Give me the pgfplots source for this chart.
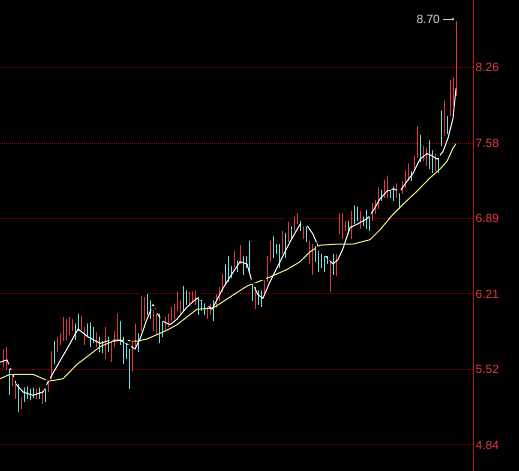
\documentclass[border=0pt]{standalone}
\usepackage{pgfplots}
\pgfplotsset{compat=1.18}
\usepackage{pgfplotstable}
\usetikzlibrary{arrows.meta}
\usepackage{fontspec}
\setmainfont{Liberation Sans}

\definecolor{upred}{RGB}{225,55,55}
\definecolor{downcyan}{RGB}{105,225,225}
\definecolor{mayellow}{RGB}{240,240,140}
\definecolor{gridred}{RGB}{165,0,0}
\definecolor{axisred}{RGB}{190,20,20}
\definecolor{labred}{RGB}{230,60,60}
\definecolor{maxgray}{RGB}{210,210,210}

% daily high-low ranges, rising days
\pgfplotstableread{
t lo hi
3 5.55 5.73
6 5.52 5.75
12 5.37 5.50
15 5.26 5.44
21 5.17 5.29
36 5.26 5.37
42 5.21 5.35
48 5.32 5.44
51 5.44 5.71
57 5.68 5.84
60 5.75 5.87
63 5.78 6.02
66 5.79 6.00
69 5.84 6.02
72 5.87 6.00
81 5.88 6.03
84 5.75 5.93
96 5.73 5.88
105 5.62 5.93
111 5.59 5.80
114 5.73 5.89
117 5.78 6.05
132 5.50 5.80
135 5.71 5.96
141 5.87 6.21
144 5.96 6.20
153 5.87 6.08
156 5.84 6.05
165 5.88 6.02
168 5.91 6.05
171 5.96 6.11
174 5.98 6.14
177 6.05 6.25
180 6.03 6.17
189 6.11 6.25
192 6.14 6.25
195 6.11 6.26
207 5.98 6.11
210 6.02 6.14
216 6.08 6.23
219 6.14 6.29
222 6.23 6.41
234 6.44 6.62
240 6.48 6.67
255 6.07 6.29
264 6.20 6.35
267 6.32 6.57
270 6.50 6.71
282 6.57 6.80
288 6.68 6.88
294 6.78 6.93
297 6.84 6.96
303 6.71 6.84
309 6.48 6.71
312 6.38 6.68
330 6.23 6.53
336 6.37 6.59
339 6.75 6.96
342 6.71 6.96
345 6.78 6.89
351 6.71 6.98
360 6.80 6.98
372 6.87 7.05
375 6.93 7.08
378 6.98 7.20
384 7.08 7.26
387 7.08 7.30
396 7.08 7.23
402 7.11 7.25
405 7.17 7.35
408 7.23 7.41
414 7.32 7.48
417 7.44 7.75
423 7.41 7.57
426 7.37 7.55
435 7.32 7.50
444 7.64 7.98
450 7.82 8.17
453 7.91 8.19
456 8.00 8.70
}\upbars

% daily high-low ranges, falling days
\pgfplotstableread{
t lo hi
9 5.29 5.55
18 5.14 5.41
24 5.23 5.38
27 5.26 5.39
30 5.25 5.37
33 5.27 5.38
39 5.26 5.38
45 5.23 5.37
54 5.57 5.80
75 5.79 5.96
78 5.87 6.05
87 5.82 5.96
90 5.73 5.97
93 5.76 5.93
99 5.68 5.84
102 5.67 5.80
108 5.68 5.84
120 5.75 5.98
123 5.57 5.84
126 5.62 5.78
129 5.35 5.73
138 5.68 5.87
147 6.02 6.23
150 5.98 6.17
159 5.76 6.05
162 5.82 5.98
183 6.05 6.30
186 6.11 6.26
198 6.02 6.20
201 6.05 6.17
204 6.02 6.14
213 5.96 6.17
225 6.29 6.50
228 6.32 6.57
231 6.35 6.48
237 6.41 6.53
243 6.38 6.57
246 6.44 6.57
249 6.41 6.71
252 6.14 6.32
258 6.11 6.26
261 6.09 6.26
273 6.53 6.75
276 6.57 6.68
279 6.44 6.68
285 6.53 6.78
291 6.71 6.84
300 6.78 6.89
306 6.68 6.84
315 6.50 6.66
318 6.41 6.62
321 6.44 6.59
324 6.41 6.57
327 6.48 6.57
333 6.38 6.59
348 6.75 6.89
354 6.84 7.03
357 6.87 7.02
363 6.82 6.93
366 6.80 6.99
369 6.78 6.93
381 7.05 7.17
390 7.08 7.17
393 7.05 7.20
399 6.98 7.14
411 7.23 7.34
420 7.40 7.67
429 7.34 7.62
432 7.30 7.53
438 7.30 7.46
441 7.55 7.89
447 7.66 7.84
}\downbars

\begin{document}
\begin{tikzpicture}
\fill[black] (0,0) rectangle (519bp,471bp);
\begin{axis}[
  at={(0,0)}, anchor=south west,
  scale only axis, width=473bp, height=471bp,
  xmin=0, xmax=473, ymin=4.604, ymax=8.872,
  clip=false,
  axis line style={draw=none},
  xtick=\empty,
  ytick={4.840,5.524,6.208,6.892,7.576,8.260},
  yticklabels={4.84,5.52,6.21,6.89,7.58,8.26},
  yticklabel pos=right,
  major tick length=0pt,
  ymajorgrids,
  grid style={draw=gridred, dash pattern=on 1bp off 1bp, line width=1bp},
  yticklabel style={font=\fontsize{12}{14}\selectfont, text=labred,
                    inner sep=0pt, anchor=west, xshift=2.5bp},
]
\addplot[only marks, mark=none,
  error bars/.cd, y dir=minus, y explicit, error mark=none,
  error bar style={draw=upred, line width=0.9bp}]
  table[x=t, y=hi, y error minus expr=\thisrow{hi}-\thisrow{lo}] {\upbars};
\addplot[only marks, mark=none,
  error bars/.cd, y dir=minus, y explicit, error mark=none,
  error bar style={draw=downcyan, line width=0.9bp}]
  table[x=t, y=hi, y error minus expr=\thisrow{hi}-\thisrow{lo}] {\downbars};

% long moving average
\addplot[mayellow, line width=1bp] coordinates {
(0,5.44)(10,5.48)(33,5.48)(43,5.44)(50,5.42)(63,5.44)(77,5.57)(90,5.66)
(100,5.73)(113,5.78)(123,5.79)(137,5.78)(147,5.80)(157,5.84)(167,5.88)
(177,5.93)(197,6.07)(213,6.08)(230,6.18)(247,6.28)(267,6.35)(287,6.43)
(300,6.50)(310,6.59)(320,6.65)(337,6.66)(353,6.66)(370,6.70)(380,6.79)
(393,6.93)(403,7.02)(417,7.14)(430,7.26)(440,7.34)(447,7.41)(453,7.53)(456,7.57)};

% short moving average
\addplot[white, line width=1bp] coordinates {
(0,5.59)(7,5.61)(12,5.50)(17,5.38)(23,5.32)(33,5.29)(43,5.32)(48,5.41)
(58,5.57)(67,5.71)(78,5.89)(88,5.82)(100,5.76)(110,5.79)(120,5.79)(128,5.75)
(135,5.71)(140,5.80)(147,5.98)(153,6.11)(158,6.02)(163,5.96)(170,5.93)
(177,5.98)(187,6.09)(197,6.17)(203,6.14)(212,6.07)(223,6.26)(232,6.39)
(240,6.50)(247,6.48)(252,6.32)(258,6.20)(263,6.17)(270,6.32)(280,6.50)
(290,6.68)(300,6.84)(307,6.83)(313,6.75)(320,6.60)(327,6.54)(333,6.48)
(338,6.52)(343,6.62)(350,6.81)(357,6.84)(367,6.89)(373,6.96)(380,7.07)
(387,7.14)(393,7.16)(400,7.14)(407,7.23)(413,7.30)(420,7.43)(427,7.48)
(432,7.46)(437,7.43)(443,7.50)(448,7.62)(453,7.80)(456,8.07)};

% price scale line
\draw[axisred, line width=1bp] (rel axis cs:1,0) -- (rel axis cs:1,1);

% highest price marker
\draw[maxgray, line width=0.8bp, -{Stealth[length=3bp,width=3bp]}]
  (axis cs:443,8.70) -- (axis cs:455,8.70);
\node[anchor=east, inner sep=0pt, text=maxgray,
      font=\fontsize{12}{14}\selectfont] at (axis cs:440,8.70) {8.70};
\end{axis}
\pgfresetboundingbox
\path[use as bounding box] (0,0) rectangle (519bp,471bp);
\end{tikzpicture}
\end{document}
